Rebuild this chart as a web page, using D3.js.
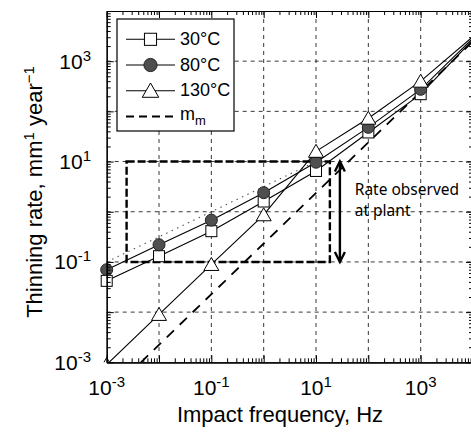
<!DOCTYPE html>
<html>
<head>
<meta charset="utf-8">
<script src="https://cdn.jsdelivr.net/npm/d3@7"></script>
<style>
  body { margin: 0; background: #fff; }
  svg { display: block; }
</style>
</head>
<body>
<div class="CHART"></div>
<script>

// impact frequency (Hz) and thinning rate (mm/year)
var freq = [1e-3, 1e-2, 1e-1, 1, 10, 100, 1000, 10000];
var rate30 = [0.042, 0.13, 0.41, 1.6, 6.5, 38, 220, 2700];
var rate80 = [0.07, 0.22, 0.68, 2.4, 9.7, 48, 275, 2900];
var rate130 = [0.0009, 0.009, 0.089, 0.87, 16, 73, 400, 3100];

// m_m dashed line end points
var mmX = [0.0045, 10000];
var mmY = [0.001, 2500];

// thin dotted line
var dotX = [1e-3, 10];
var dotY = [0.1, 10];

// "rate observed at plant" box and arrow
var boxX = [0.0024, 18.4];
var boxY = [0.1, 10];
var arrowX = 28.6;
var noteX = 55;
var noteY = [2.2, 0.82];

var labelVals = [1e-3, 1e-1, 10, 1e3];
var labelExp = ["-3", "-1", "1", "3"];
var legendNames = ["30\u00b0C", "80\u00b0C", "130\u00b0C"];

var W = 471, H = 434;

var canvas = d3.select(".CHART").append("svg")
	.attr("width", W)
	.attr("height", H);

canvas.append("rect").attr("width", W).attr("height", H).attr("fill", "white");

var x = d3.scaleLog().domain([1e-3, 1e4]).range([106.7, 473]);
var y = d3.scaleLog().domain([1e-3, 1e4]).range([362.3, 11]);

var decades = d3.range(-3, 5).map(function(d){ return Math.pow(10, d); });
var minors = [];
d3.range(-3, 4).forEach(function(d){
	for (var k = 2; k <= 9; k++) minors.push(k * Math.pow(10, d));
});

var font = "'Liberation Sans', Arial, sans-serif";

// grid
var inner = decades.slice(1, 7);
canvas.selectAll(".gx").data(inner).enter().append("line")
	.attr("x1", function(d){ return x(d); })
	.attr("x2", function(d){ return x(d); })
	.attr("y1", y(1e4)).attr("y2", y(1e-3))
	.attr("stroke", "#222").attr("stroke-width", 0.9)
	.attr("stroke-dasharray", "4,4");
canvas.selectAll(".gy").data(inner).enter().append("line")
	.attr("y1", function(d){ return y(d); })
	.attr("y2", function(d){ return y(d); })
	.attr("x1", x(1e-3)).attr("x2", x(1e4))
	.attr("stroke", "#222").attr("stroke-width", 0.9)
	.attr("stroke-dasharray", "4,4");

// observed rate box
canvas.append("rect")
	.attr("x", x(boxX[0]))
	.attr("y", y(boxY[1]))
	.attr("width", x(boxX[1]) - x(boxX[0]))
	.attr("height", y(boxY[0]) - y(boxY[1]))
	.attr("fill", "none")
	.attr("stroke", "black")
	.attr("stroke-width", 2.4)
	.attr("stroke-dasharray", "8,3");

var clip = canvas.append("clipPath").attr("id", "plotclip")
	.append("rect")
	.attr("x", 0).attr("y", y(1e4))
	.attr("width", W).attr("height", y(1e-3) - y(1e4));

var plot = canvas.append("g").attr("clip-path", "url(#plotclip)");

var line = d3.line()
	.x(function(d){ return x(d[0]); })
	.y(function(d){ return y(d[1]); });

plot.append("path")
	.attr("d", line(d3.zip(dotX, dotY)))
	.attr("fill", "none").attr("stroke", "#555")
	.attr("stroke-width", 1.1).attr("stroke-dasharray", "1.5,4.5");

plot.append("path")
	.attr("d", line(d3.zip(mmX, mmY)))
	.attr("fill", "none").attr("stroke", "black")
	.attr("stroke-width", 1.8).attr("stroke-dasharray", "10,8");

var series = [rate30, rate80, rate130];
series.forEach(function(s){
	plot.append("path")
		.attr("d", line(d3.zip(freq, s)))
		.attr("fill", "none")
		.attr("stroke", "black")
		.attr("stroke-width", 1.1);
});

// markers (the 1e4 points sit past the picture edge)
function marker(g, kind, cx, cy, big) {
	var s = big ? 1.1 : 1;
	if (kind == 0) {
		g.append("rect")
			.attr("x", cx - 5.5*s).attr("y", cy - 5.5*s)
			.attr("width", 11*s).attr("height", 11*s)
			.attr("fill", "white").attr("stroke", "black").attr("stroke-width", 1);
	} else if (kind == 1) {
		g.append("circle")
			.attr("cx", cx).attr("cy", cy).attr("r", 6*s)
			.attr("fill", "#4f4f4f").attr("stroke", "#222").attr("stroke-width", 1);
	} else {
		g.append("path")
			.attr("d", "M" + cx + "," + (cy - 7*s) + "L" + (cx + 7.5*s) + "," + (cy + 6*s) +
				"L" + (cx - 7.5*s) + "," + (cy + 6*s) + "Z")
			.attr("fill", "white").attr("stroke", "black").attr("stroke-width", 1);
	}
}

series.forEach(function(s, k){
	freq.forEach(function(f, i){
		if (f > 1000) return;
		marker(plot, k, x(f), y(s[i]), false);
	});
});

// frame and ticks
function frame(axis, tx, ty, vals, size) {
	var g = canvas.append("g")
		.attr("transform", "translate(" + tx + "," + ty + ")")
		.call(axis.tickValues(vals).tickSize(size).tickSizeOuter(0).tickFormat(""));
	g.select(".domain").attr("stroke", "black").attr("stroke-width", 1.2);
	g.selectAll(".tick line").attr("stroke", "black").attr("stroke-width", 1);
	return g;
}
frame(d3.axisBottom(x), 0, y(1e-3), decades, -7);
frame(d3.axisBottom(x), 0, y(1e-3), minors, -4);
frame(d3.axisTop(x), 0, y(1e4), decades, -7);
frame(d3.axisTop(x), 0, y(1e4), minors, -4);
frame(d3.axisLeft(y), x(1e-3), 0, decades, -7);
frame(d3.axisLeft(y), x(1e-3), 0, minors, -4);
frame(d3.axisRight(y), x(1e4), 0, decades, -7);
frame(d3.axisRight(y), x(1e4), 0, minors, -4);

// tick labels with superscripts
labelVals.forEach(function(v, i){
	var t = canvas.append("text")
		.attr("x", x(v)).attr("y", 395)
		.attr("text-anchor", "middle")
		.attr("font-family", font).attr("font-size", "21px");
	t.append("tspan").text("10");
	t.append("tspan").attr("dy", -8).attr("font-size", "15px").text(labelExp[i]);

	var u = canvas.append("text")
		.attr("x", 91).attr("y", y(v) + 7.5)
		.attr("text-anchor", "end")
		.attr("font-family", font).attr("font-size", "21px");
	u.append("tspan").text("10");
	u.append("tspan").attr("dy", -8).attr("font-size", "15px").text(labelExp[i]);
});

// axis titles
canvas.append("text")
	.attr("x", 280).attr("y", 422)
	.attr("text-anchor", "middle")
	.attr("font-family", font).attr("font-size", "22px")
	.text("Impact frequency, Hz");

var yt = canvas.append("text")
	.attr("transform", "translate(42,192) rotate(-90)")
	.attr("text-anchor", "middle")
	.attr("font-family", font).attr("font-size", "22px");
yt.append("tspan").text("Thinning rate, mm");
yt.append("tspan").attr("dy", -8).attr("font-size", "15px").text("1");
yt.append("tspan").attr("dy", 8).text(" year");
yt.append("tspan").attr("dy", -8).attr("font-size", "15px").text("\u22121");

// arrow and note
var ax = x(arrowX), a0 = y(boxY[1]), a1 = y(boxY[0]);
canvas.append("line")
	.attr("x1", ax).attr("x2", ax).attr("y1", a0 + 1).attr("y2", a1 - 1)
	.attr("stroke", "black").attr("stroke-width", 2.4);
canvas.append("path")
	.attr("d", "M" + (ax - 5) + "," + (a0 + 10) + "L" + ax + "," + a0 + "L" + (ax + 5) + "," + (a0 + 10))
	.attr("fill", "none").attr("stroke", "black").attr("stroke-width", 2.4);
canvas.append("path")
	.attr("d", "M" + (ax - 5) + "," + (a1 - 10) + "L" + ax + "," + a1 + "L" + (ax + 5) + "," + (a1 - 10))
	.attr("fill", "none").attr("stroke", "black").attr("stroke-width", 2.4);

["Rate observed", "at plant"].forEach(function(s, i){
	canvas.append("text")
		.attr("x", x(noteX)).attr("y", y(noteY[i]))
		.attr("font-family", "'Noto Sans', sans-serif").attr("font-size", "15.5px")
		.attr("fill", "black")
		.text(s);
});

// legend
var leg = canvas.append("g");
leg.append("rect")
	.attr("x", 117).attr("y", 19).attr("width", 117).attr("height", 112)
	.attr("fill", "white").attr("stroke", "black").attr("stroke-width", 1.2);

legendNames.forEach(function(n, i){
	var ly = 39.3 + i * 25.7;
	leg.append("line")
		.attr("x1", 126).attr("x2", 175).attr("y1", ly).attr("y2", ly)
		.attr("stroke", "black").attr("stroke-width", 1.1);
	marker(leg, i, 150.5, ly, true);
	leg.append("text")
		.attr("x", 180).attr("y", ly + 5.5)
		.attr("font-family", font).attr("font-size", "18px")
		.text(n);
});
leg.append("line")
	.attr("x1", 126).attr("x2", 175).attr("y1", 116.5).attr("y2", 116.5)
	.attr("stroke", "black").attr("stroke-width", 1.8)
	.attr("stroke-dasharray", "8,5");
var mt = leg.append("text")
	.attr("x", 180).attr("y", 120)
	.attr("font-family", font).attr("font-size", "18px");
mt.append("tspan").text("m");
mt.append("tspan").attr("dy", 5).attr("font-size", "13px").text("m");

</script>
</body>
</html>
